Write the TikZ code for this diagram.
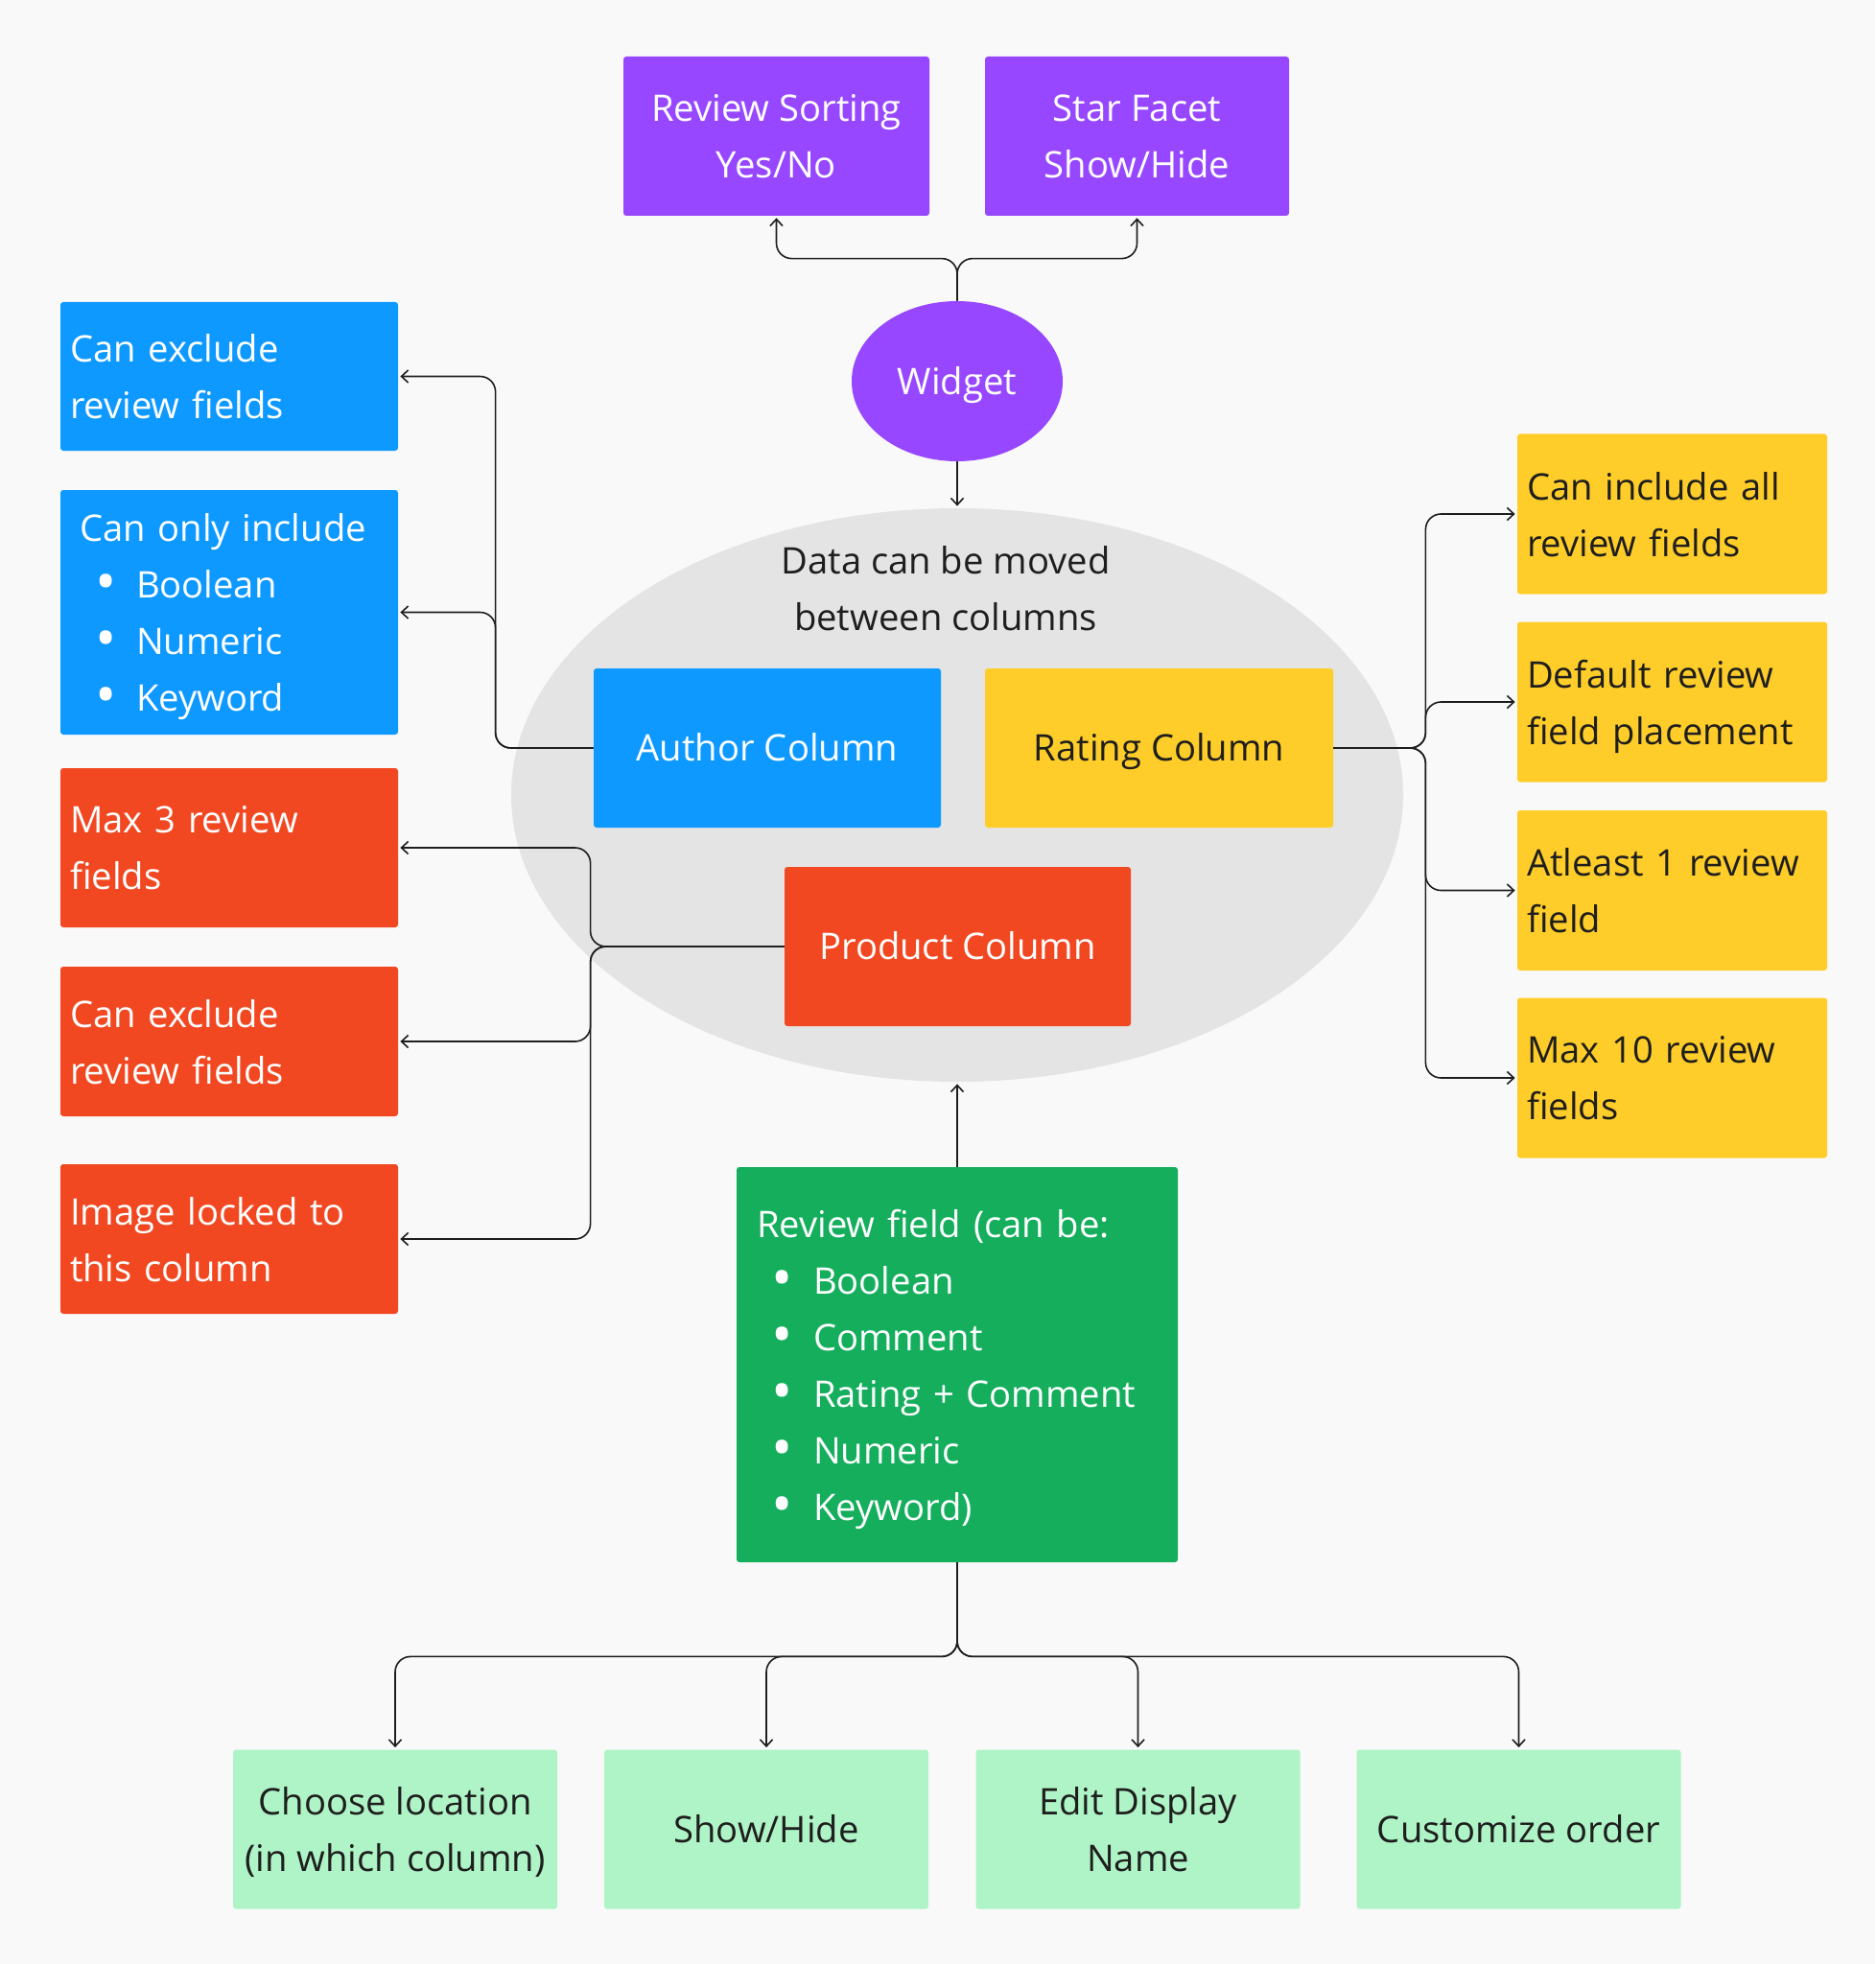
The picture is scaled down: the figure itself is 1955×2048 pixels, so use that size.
\documentclass[tikz,border=0pt]{standalone}
\usepackage{fontspec}
\setmainfont{Open Sans}
\usetikzlibrary{arrows.meta,shapes.geometric}
\definecolor{bgc}{HTML}{F9F9F9}
\definecolor{cpurple}{HTML}{9747FF}
\definecolor{cblue}{HTML}{0D99FF}
\definecolor{cred}{HTML}{F24822}
\definecolor{cyellow}{HTML}{FFCD29}
\definecolor{cgreen}{HTML}{14AE5C}
\definecolor{clgreen}{HTML}{AFF4C6}
\definecolor{cgrey}{HTML}{E4E4E4}
\definecolor{cdark}{HTML}{1E1E1E}
\newcommand{\blt}{\smash{\raisebox{-2.0pt}{\scalebox{1.55}{•}}}}
\begin{document}
\begin{tikzpicture}[x=0.5pt,y=-0.5pt,
  box/.style={rectangle, rounded corners=1.5pt, inner sep=0pt, font=\fontsize{19.1pt}{29.5pt}\selectfont},
  oneline/.style={text height=13.7pt, text depth=0pt},
  cbox/.style={box, align=center, minimum height=83pt},
  lbox/.style={box, align=left, text width=166pt, inner xsep=5pt},
  ybox/.style={box, fill=cyellow, text=cdark, align=left, text width=151.5pt, inner xsep=5pt, minimum height=83.5pt},
  gbox/.style={box, fill=clgreen, text=cdark, align=center, minimum width=169pt, minimum height=83pt},
  conn/.style={draw=cdark, line width=0.8pt, rounded corners=8pt, -{Straight Barb[length=3.5pt,width=6.5pt]}, shorten >=1pt}]
\fill[bgc] (0,0) rectangle (1955,2048);
\useasboundingbox (0,0) rectangle (1955,2048);

% big ellipse
\node[ellipse, fill=cgrey, minimum width=465pt, minimum height=299pt, inner sep=0pt] (big) at (998,829) {};
\node[font=\fontsize{19.1pt}{29.5pt}\selectfont, text=cdark, align=center] (datatxt) at (986,614) {Data can be moved\\between columns};

% top
\node[cbox, fill=cpurple, text=white, minimum width=159.5pt] (rs) at (809.5,142) {Review Sorting\\\smash{Yes/No}};
\node[cbox, fill=cpurple, text=white, minimum width=158.5pt] (sf) at (1185.5,142) {Star Facet\\\smash{Show/Hide}};
\node[ellipse, fill=cpurple, text=white, minimum width=110pt, minimum height=83.5pt, inner sep=0pt, font=\fontsize{19.1pt}{29.5pt}\selectfont, oneline] (w) at (998,397.5) {Widget};

% columns
\node[box, fill=cblue, text=white, minimum width=181pt, minimum height=83pt, oneline] (au) at (800,780) {Author Column};
\node[box, fill=cyellow, text=cdark, minimum width=181.5pt, minimum height=83pt, oneline] (rc) at (1208.5,780) {Rating Column};
\node[box, fill=cred, text=white, minimum width=180.5pt, minimum height=83pt, oneline] (pc) at (998.5,987) {Product Column};

% left blue
\node[lbox, fill=cblue, text=white, minimum height=77.5pt] (b1) at (239,392.5) {Can exclude\\\smash{review fields}};
\node[box, fill=cblue, text=white, align=left, text width=156pt, inner xsep=10pt, minimum height=127.5pt] (b2) at (239,638.5) {Can only include\\
\hspace*{14pt}\makebox[0pt]{\blt}\hspace*{15.5pt}Boolean\\
\hspace*{14pt}\makebox[0pt]{\blt}\hspace*{15.5pt}Numeric\\
\smash{\hspace*{14pt}\makebox[0pt]{\blt}\hspace*{15.5pt}Keyword}};

% left red
\node[lbox, fill=cred, text=white, minimum height=83pt] (r1) at (239,884) {Max 3 review\\\smash{fields}};
\node[lbox, fill=cred, text=white, minimum height=78pt] (r2) at (239,1086) {Can exclude\\\smash{review fields}};
\node[lbox, fill=cred, text=white, minimum height=78pt] (r3) at (239,1292) {Image locked to\\\smash{this column}};

% right yellow
\node[ybox] (y1) at (1743.5,536) {Can include all\\\smash{review fields}};
\node[ybox] (y2) at (1743.5,732) {Default review\\\smash{field placement}};
\node[ybox] (y3) at (1743.5,928.5) {Atleast 1 review\\\smash{field}};
\node[ybox] (y4) at (1743.5,1124) {Max 10 review\\\smash{fields}};

% review field
\node[box, fill=cgreen, text=white, align=left, text width=209pt, inner xsep=10.5pt, minimum height=206pt] (rf) at (998,1423) {Review field (can be:\\
\hspace*{13.5pt}\makebox[0pt]{\blt}\hspace*{16pt}Boolean\\
\hspace*{13.5pt}\makebox[0pt]{\blt}\hspace*{16pt}Comment\\
\hspace*{13.5pt}\makebox[0pt]{\blt}\hspace*{16pt}Rating + Comment\\
\hspace*{13.5pt}\makebox[0pt]{\blt}\hspace*{16pt}Numeric\\
\smash{\hspace*{13.5pt}\makebox[0pt]{\blt}\hspace*{16pt}Keyword)}};

% bottom
\node[gbox] (g1) at (412,1907.5) {Choose location\\\smash{(in which column)}};
\node[gbox, oneline] (g2) at (799,1907.5) {Show/Hide};
\node[gbox] (g3) at (1186.5,1907.5) {Edit Display\\\smash{Name}};
\node[gbox, oneline] (g4) at (1583.5,1907.5) {Customize order};

% connectors
\draw[conn] (w.north) -- ++(0,-44) -| (rs.south);
\draw[conn] (w.north) -- ++(0,-44) -| (sf.south);
\draw[conn] (w.south) -- (big.north);

\draw[conn] (au.west) -- ++(-102,0) |- (b1.east);
\draw[conn] (au.west) -- ++(-102,0) |- (b2.east);

\draw[conn] (pc.west) -- ++(-202,0) |- (r1.east);
\draw[conn] (pc.west) -- ++(-202,0) |- (r2.east);
\draw[conn] (pc.west) -- ++(-202,0) |- (r3.east);

\draw[conn] (rc.east) -- ++(96,0) |- (y1.west);
\draw[conn] (rc.east) -- ++(96,0) |- (y2.west);
\draw[conn] (rc.east) -- ++(96,0) |- (y3.west);
\draw[conn] (rc.east) -- ++(96,0) |- (y4.west);

\draw[conn] (rf.north) -- (big.south);

\draw[conn] (rf.south) -- ++(0,98) -| (g1.north);
\draw[conn] (rf.south) -- ++(0,98) -| (g2.north);
\draw[conn] (rf.south) -- ++(0,98) -| (g3.north);
\draw[conn] (rf.south) -- ++(0,98) -| (g4.north);
\end{tikzpicture}
\end{document}
